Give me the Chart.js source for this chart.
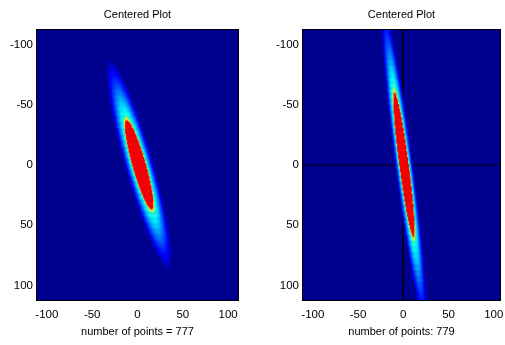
<!DOCTYPE html>
<html>
<head>
<meta charset="utf-8">
<script src="https://cdn.jsdelivr.net/npm/chart.js@4.4.0/dist/chart.umd.min.js"></script>
<style>
    html, body { margin: 0; padding: 0; background: #fff; width: 505px; height: 345px; overflow: hidden; }
    canvas { position: absolute; top: 0; }
    #leftPlot { left: 0; }
    #rightPlot { left: 266px; }
</style>
</head>
<body>
<canvas id="leftPlot" width="252" height="345"></canvas>
<canvas id="rightPlot" width="239" height="345"></canvas>
<script>
const TITLE = 'Centered Plot';
const X_TICKS = [-100, -50, 0, 50, 100];
const Y_TICKS = [-100, -50, 0, 50, 100];
const LEFT_X_RANGE = [-112, 112];
const RIGHT_X_RANGE = [-112, 108];
const Y_RANGE = [-113, 113];
const LEFT_LABEL = 'number of points = 777';
const RIGHT_LABEL = 'number of points: 779';

// blobs: centre, tilt from vertical (deg), red core semi-axes, outer glow semi-axes
const LEFT_CENTER = [2, 0];
const LEFT_TILT = [21];
const LEFT_CORE = [39, 7];
const LEFT_GLOW = [96, 15.5];
const RIGHT_CENTER = [1, 0];
const RIGHT_TILT = [10];
const RIGHT_CORE = [60, 5];
const RIGHT_GLOW = [140, 10];

// colour level from the red edge (0) out to the glow edge (1)
const PROFILE_POS = [0, 0.03, 0.08, 0.2, 0.4, 0.6, 0.8, 1];
const PROFILE_LEVEL = [0.875, 0.62, 0.42, 0.36, 0.27, 0.18, 0.1, 0];

// crosshair on the right plot
const CROSS_X = [0];
const CROSS_Y = [0];

const FONT = { family: '"Liberation Sans", Arial, sans-serif', size: 11.5 };
const BG_LEVEL = 0.0156;

function jet(t) {
    const f = k => Math.round(255 * Math.min(1, Math.max(0, 1.5 - Math.abs(4 * t - k))));
    return `rgb(${f(3)},${f(2)},${f(1)})`;
}

function profile(q) {
    for (let i = 1; i < PROFILE_POS.length; i++) {
        if (q <= PROFILE_POS[i]) {
            const a = (q - PROFILE_POS[i - 1]) / (PROFILE_POS[i] - PROFILE_POS[i - 1]);
            return PROFILE_LEVEL[i - 1] + a * (PROFILE_LEVEL[i] - PROFILE_LEVEL[i - 1]);
        }
    }
    return 0;
}

function levelAt(x, y, blob) {
    const t = blob.tilt[0] * Math.PI / 180;
    const dx = x - blob.center[0], dy = y - blob.center[1];
    const u = dx * Math.sin(t) + dy * Math.cos(t);
    const v = dx * Math.cos(t) - dy * Math.sin(t);
    const rc = Math.hypot(u / blob.core[0], v / blob.core[1]);
    if (rc <= 1) return PROFILE_LEVEL[0];
    const ro = Math.hypot(u / blob.glow[0], v / blob.glow[1]);
    if (ro >= 1) return 0;
    const q = (1 - 1 / rc) / (1 / ro - 1 / rc);
    return profile(q);
}

function buildCells(xRange, blob) {
    const pts = [], colors = [];
    for (let y = Math.ceil(Y_RANGE[0]); y <= Math.floor(Y_RANGE[1]); y++) {
        for (let x = Math.ceil(xRange[0]); x <= Math.floor(xRange[1]); x++) {
            const lv = levelAt(x, y, blob);
            if (lv <= 0.005) continue;
            pts.push({ x, y });
            colors.push(jet(Math.max(lv, BG_LEVEL)));
        }
    }
    return { pts, colors };
}

const axesBox = {
    id: 'axesBox',
    beforeDatasetsDraw(chart) {
        const { ctx, chartArea: a } = chart;
        ctx.save();
        ctx.fillStyle = jet(BG_LEVEL);
        ctx.fillRect(a.left, a.top, a.right - a.left, a.bottom - a.top);
        ctx.restore();
    },
    afterDatasetsDraw(chart) {
        const { ctx, chartArea: a } = chart;
        ctx.save();
        ctx.strokeStyle = '#000';
        ctx.lineWidth = 1;
        ctx.strokeRect(a.left + 0.5, a.top + 0.5, a.right - a.left - 1, a.bottom - a.top - 1);
        ctx.restore();
    }
};

function heatChart(id, xRange, label, blob, cross, padRight) {
    const el = document.getElementById(id);
    if (!el) return null;
    const cells = buildCells(xRange, blob);
    const datasets = [{
        type: 'scatter',
        data: cells.pts,
        pointStyle: 'rect',
        pointRadius: 1,
        pointBorderWidth: 0,
        pointBackgroundColor: cells.colors,
        showLine: false
    }];
    if (cross) {
        CROSS_X.forEach(v => datasets.push({
            type: 'line', data: [{ x: v, y: Y_RANGE[0] }, { x: v, y: Y_RANGE[1] }],
            borderColor: '#000', borderWidth: 1, pointRadius: 0, fill: false
        }));
        CROSS_Y.forEach(v => datasets.push({
            type: 'line', data: [{ x: xRange[0], y: v }, { x: xRange[1], y: v }],
            borderColor: '#000', borderWidth: 1, pointRadius: 0, fill: false
        }));
    }
    return new Chart(el, {
        type: 'scatter',
        data: { datasets },
        options: {
            responsive: false,
            animation: false,
            events: [],
            layout: { padding: { left: 0, right: padRight, top: 0, bottom: 0 } },
            plugins: {
                legend: { display: false },
                tooltip: { enabled: false },
                title: {
                    display: true, text: TITLE, fullSize: false, color: '#000',
                    font: { ...FONT, size: 11, weight: 'normal', lineHeight: 1.2 },
                    padding: { top: 8, bottom: 7.8 }
                }
            },
            scales: {
                x: {
                    type: 'linear', min: xRange[0], max: xRange[1],
                    afterBuildTicks: s => { s.ticks = X_TICKS.map(v => ({ value: v })); },
                    afterFit: s => { s.height = 44; s.paddingLeft = 0; s.paddingRight = 0; },
                    grid: { display: false, drawTicks: false },
                    border: { display: false },
                    ticks: { color: '#000', font: FONT, padding: 7, maxRotation: 0, autoSkip: false },
                    title: { display: true, text: label, color: '#000', font: { ...FONT, size: 11 }, padding: { top: 0, bottom: 6 } }
                },
                y: {
                    type: 'linear', min: Y_RANGE[0], max: Y_RANGE[1], reverse: true,
                    afterBuildTicks: s => { s.ticks = Y_TICKS.map(v => ({ value: v })); },
                    afterFit: s => { s.width = 36; s.paddingTop = 0; s.paddingBottom = 0; },
                    grid: { display: false, drawTicks: false },
                    border: { display: false },
                    ticks: { color: '#000', font: FONT, padding: 3, autoSkip: false }
                }
            }
        },
        plugins: [axesBox]
    });
}

heatChart('leftPlot', LEFT_X_RANGE, LEFT_LABEL,
    { center: LEFT_CENTER, tilt: LEFT_TILT, core: LEFT_CORE, glow: LEFT_GLOW }, false, 13);
heatChart('rightPlot', RIGHT_X_RANGE, RIGHT_LABEL,
    { center: RIGHT_CENTER, tilt: RIGHT_TILT, core: RIGHT_CORE, glow: RIGHT_GLOW }, true, 0);
</script>
</body>
</html>
